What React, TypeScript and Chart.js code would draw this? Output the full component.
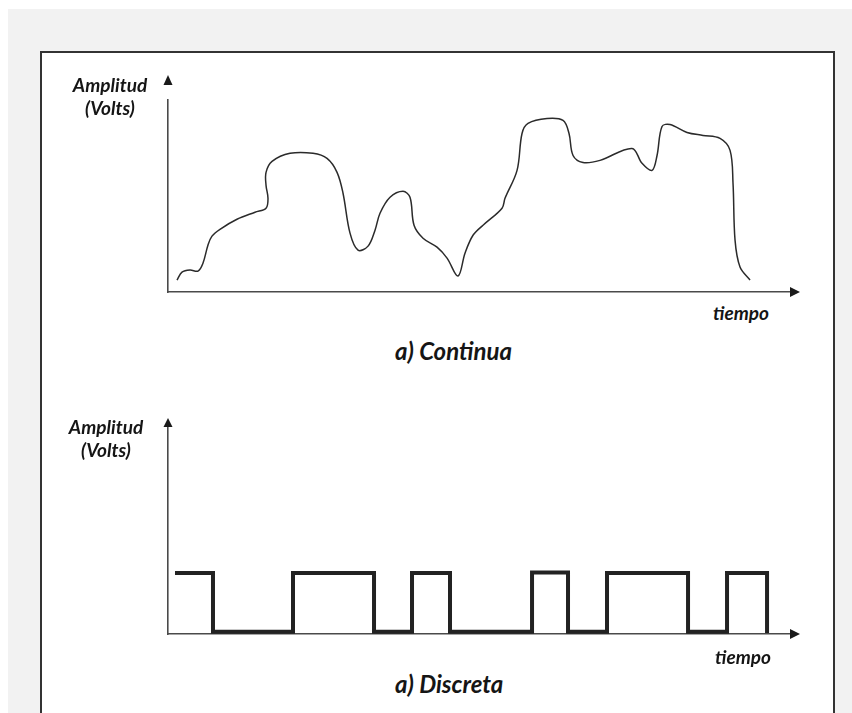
import { useEffect, useRef } from "react";
import Chart from "chart.js/auto";

// Señal continua (tiempo, amplitud)
const continuaTiempo = [
  1.43, 2.22, 3.49, 4.76, 5.56, 6.35, 6.98, 8.25, 10.95, 13.81, 15.56, 15.87, 15.56, 15.56, 16.51,
  19.37, 23.02, 25.24, 26.83, 27.78, 28.89, 30.16, 31.75, 32.86, 33.65, 35.24, 37.3, 38.41, 39.05,
  40.48, 42.7, 44.29, 46.03, 47.14, 48.41, 50.0, 53.02, 53.49, 55.4, 56.19, 57.14, 60.16, 62.7,
  63.65, 64.29, 65.87, 68.57, 73.65, 75.24, 76.83, 77.62, 78.41, 79.68, 82.38, 84.92, 87.62, 89.21,
  89.68, 90.0, 90.79, 92.38,
];
const continuaAmplitud = [
  0.56, 0.93, 1.03, 0.98, 1.36, 2.2, 2.62, 2.94, 3.41, 3.74, 3.93, 4.39, 5.0, 5.61, 6.12, 6.5, 6.5,
  6.26, 5.61, 4.63, 2.76, 1.96, 2.15, 2.9, 3.69, 4.44, 4.72, 4.44, 3.13, 2.52, 2.1, 1.59, 0.75,
  1.82, 2.66, 3.13, 3.93, 4.39, 5.7, 7.43, 7.9, 8.13, 8.04, 7.43, 6.4, 6.07, 6.17, 6.73, 6.03, 5.7,
  6.4, 7.76, 7.85, 7.48, 7.34, 7.2, 6.64, 5.09, 2.43, 1.17, 0.56,
];

// Señal discreta (inicio de cada nivel, nivel)
const discretaTiempo = [1.11, 7.14, 19.84, 32.7, 38.73, 44.76, 57.78, 63.49, 69.68, 82.54, 88.73, 95.08];
const discretaNivel = [2.82, 0.1, 2.82, 0.1, 2.82, 0.1, 2.85, 0.1, 2.82, 0.1, 2.82, 0.05];

const ejeX = { min: 0, max: 99.2 };
const ejeYContinua = { min: 0, max: 9 };
const ejeYDiscreta = { min: 0, max: 9.63 };

const AXIS_COLOR = "#4a4a4a";

function arrowPlugin(id: string, tipOff: number, baseOff: number) {
  return {
    id,
    afterDraw(chart: any) {
      const { ctx, chartArea } = chart;
      const x0 = chartArea.left;
      const y0 = chartArea.bottom;
      ctx.save();
      ctx.fillStyle = "#1a1a1a";
      ctx.beginPath();
      ctx.moveTo(x0, chartArea.top + tipOff);
      ctx.lineTo(x0 - 4.5, chartArea.top + baseOff);
      ctx.lineTo(x0 + 4.5, chartArea.top + baseOff);
      ctx.closePath();
      ctx.fill();
      ctx.beginPath();
      ctx.moveTo(chartArea.right + 7, y0);
      ctx.lineTo(chartArea.right - 3, y0 - 5);
      ctx.lineTo(chartArea.right - 3, y0 + 5);
      ctx.closePath();
      ctx.fill();
      ctx.restore();
    },
  };
}

function scales(yr: { min: number; max: number }) {
  const common = {
    display: true,
    grid: { display: false, drawTicks: false },
    ticks: { display: false },
    border: { display: true, color: AXIS_COLOR, width: 1.6 },
  };
  return {
    x: { type: "linear" as const, ...ejeX, ...common },
    y: { type: "linear" as const, ...yr, ...common },
  };
}

const textBase: React.CSSProperties = {
  position: "absolute",
  fontFamily: "Lato, 'Open Sans', sans-serif",
  fontStyle: "italic",
  fontWeight: 700,
  color: "#151515",
  whiteSpace: "nowrap",
  lineHeight: 1,
};

export default function App() {
  const topRef = useRef<HTMLCanvasElement>(null);
  const botRef = useRef<HTMLCanvasElement>(null);

  useEffect(() => {
    const top = new Chart(topRef.current!, {
      type: "line",
      data: {
        datasets: [
          {
            data: continuaTiempo.map((t, i) => ({ x: t, y: continuaAmplitud[i] })),
            borderColor: "#2b2b2b",
            borderWidth: 1.5,
            pointRadius: 0,
            tension: 0.35,
            fill: false,
          },
        ],
      },
      options: {
        responsive: false,
        animation: false,
        events: [],
        layout: { padding: { left: 18, right: 27, top: 40, bottom: 8 } },
        plugins: { legend: { display: false }, tooltip: { enabled: false } },
        scales: scales(ejeYContinua) as any,
      },
      plugins: [arrowPlugin("arrowTop", -25, -15)],
    });
    const bot = new Chart(botRef.current!, {
      type: "line",
      data: {
        datasets: [
          {
            data: discretaTiempo.map((t, i) => ({ x: t, y: discretaNivel[i] })),
            borderColor: "#222",
            borderWidth: 4,
            pointRadius: 0,
            stepped: true,
            fill: false,
            borderJoinStyle: "miter",
            borderCapStyle: "butt",
          },
        ],
      },
      options: {
        responsive: false,
        animation: false,
        events: [],
        layout: { padding: { left: 18, right: 27, top: 26, bottom: 16 } },
        plugins: { legend: { display: false }, tooltip: { enabled: false } },
        scales: scales(ejeYDiscreta) as any,
      },
      plugins: [arrowPlugin("arrowBot", -8, 1)],
    });
    return () => {
      top.destroy();
      bot.destroy();
    };
  }, []);

  return (
    <div style={{ position: "fixed", left: 0, top: 0, width: 852, height: 713, background: "#fff", overflow: "hidden" }}>
      <div style={{ position: "absolute", left: 8, top: 9, right: 0, bottom: 0, background: "#f2f2f2" }} />
      <div
        style={{
          position: "absolute",
          left: 40,
          top: 51,
          width: 795,
          height: 665,
          boxSizing: "border-box",
          border: "2px solid #333",
          background: "#fff",
        }}
      />
      <canvas ref={topRef} width={670} height={240} style={{ position: "absolute", left: 150, top: 60 }} />
      <canvas ref={botRef} width={670} height={250} style={{ position: "absolute", left: 150, top: 400 }} />

      <div style={{ ...textBase, left: 50, width: 120, top: 75, fontSize: 19, textAlign: "center" }}>Amplitud</div>
      <div style={{ ...textBase, left: 50, width: 120, top: 98, fontSize: 19, textAlign: "center" }}>(Volts)</div>
      <div style={{ ...textBase, left: 46, width: 120, top: 417, fontSize: 19, textAlign: "center" }}>Amplitud</div>
      <div style={{ ...textBase, left: 46, width: 120, top: 440, fontSize: 19, textAlign: "center" }}>(Volts)</div>

      <div style={{ ...textBase, left: 713, top: 303, fontSize: 19 }}>tiempo</div>
      <div style={{ ...textBase, left: 715, top: 647, fontSize: 19 }}>tiempo</div>

      <div style={{ ...textBase, left: 395, top: 339, fontSize: 24 }}>a) Continua</div>
      <div style={{ ...textBase, left: 395, top: 672, fontSize: 24 }}>a) Discreta</div>
    </div>
  );
}
